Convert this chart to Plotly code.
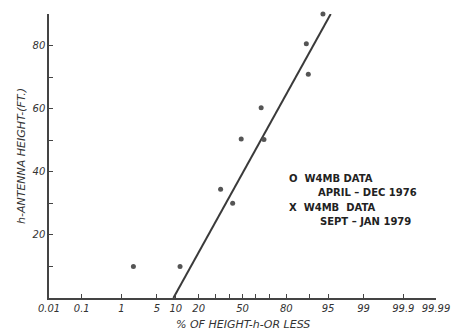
from statistics import NormalDist
import plotly.graph_objects as go

nd = NormalDist()
def z(p):
    return nd.inv_cdf(p / 100.0)

# Data (percent of height h or less, antenna height in ft)
pct = [1.8, 11.5, 33.7, 42.5, 49, 66, 64, 89.7, 89, 93.9]
height = [10, 10, 34.5, 30, 50.4, 50.2, 60.3, 70.9, 80.6, 90]

fit_pct = [9.2, 95.5]
fit_height = [0, 90]

x_tick_pct = [0.01, 0.1, 1, 5, 10, 20, 30, 40, 50, 60, 70, 80, 90, 95, 99, 99.9, 99.99]
x_tick_text = ["0.01", "0.1", "1", "5", "10", "20", "", "", "50", "", "", "80", "", "95", "99", "99.9", "99.99"]
y_ticks = [10, 20, 30, 40, 50, 60, 70, 80]
y_tick_text = ["", "20", "", "40", "", "60", "", "80"]

legend_lines = ["O  W4MB DATA", "APRIL – DEC 1976", "X  W4MB  DATA", "SEPT – JAN 1979"]

ink = "#333333"
fig = go.Figure()
fig.add_trace(go.Scatter(x=[z(p) for p in fit_pct], y=fit_height, mode="lines",
                         line=dict(color="#3a3a3a", width=2), showlegend=False,
                         cliponaxis=False))
fig.add_trace(go.Scatter(x=[z(p) for p in pct], y=height, mode="markers",
                         marker=dict(color="#555555", size=5), showlegend=False,
                         cliponaxis=False))

zr = z(99.99)
fig.update_xaxes(range=[-zr, zr], showgrid=False, zeroline=False, showline=True, automargin=False,
                 linecolor="#444", linewidth=1.5, ticks="inside", ticklen=4, tickcolor="#444",
                 tickvals=[z(p) for p in x_tick_pct], ticktext=x_tick_text,
                 tickfont=dict(family="DejaVu Sans", size=10, color=ink, style="italic"))
fig.update_yaxes(range=[0, 90], showgrid=False, zeroline=False, showline=True, automargin=False,
                 linecolor="#444", linewidth=1.5, ticks="inside", ticklen=4, tickcolor="#444",
                 tickvals=y_ticks, ticktext=y_tick_text,
                 tickfont=dict(family="DejaVu Sans", size=10, color=ink, style="italic"))

# Axis titles
fig.add_annotation(x=0.5, y=-0.095, xref="paper", yref="paper", text="% OF HEIGHT-h-OR LESS",
                   showarrow=False, xanchor="center", yanchor="middle",
                   font=dict(family="DejaVu Sans", size=11, color=ink, style="italic"))
fig.add_annotation(x=0, y=0.5, xref="paper", yref="paper", text="h-ANTENNA HEIGHT-(FT.)",
                   showarrow=False, xanchor="center", yanchor="middle", xshift=-28, textangle=-90,
                   font=dict(family="DejaVu Sans", size=11, color=ink, style="italic"))

ys = [0.4225, 0.373, 0.317, 0.268]
xs = [0.616, 0.69, 0.614, 0.695]
for t, xx, yy in zip(legend_lines, xs, ys):
    fig.add_annotation(x=xx, y=yy, xref="paper", yref="paper", text="<b>" + t + "</b>",
                       showarrow=False, xanchor="left", yanchor="middle",
                       font=dict(family="DejaVu Sans", size=10, color="#222"))

fig.update_layout(width=453, height=327, margin=dict(l=41, r=25, t=6, b=37),
                  plot_bgcolor="white", paper_bgcolor="white")
fig.write_html("out.html")
